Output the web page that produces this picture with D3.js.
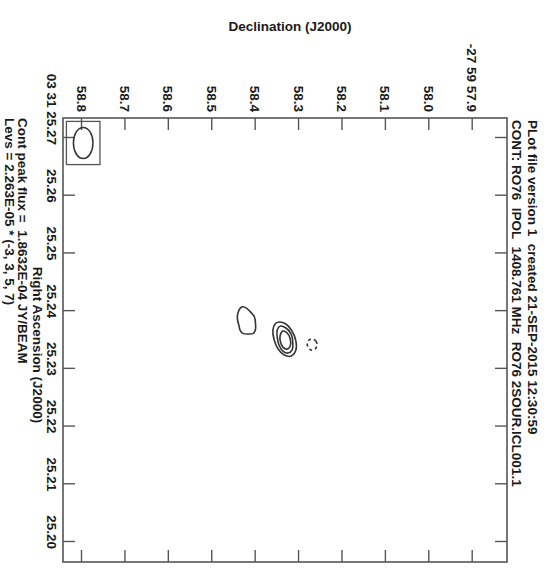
<!DOCTYPE html>
<html>
<head>
<meta charset="utf-8">
<script src="https://cdn.jsdelivr.net/npm/d3@7"></script>
<style>
  body { margin: 0; background: #fff; }
  text { font-family: "Liberation Sans", Arial, Helvetica, sans-serif; fill: #1a1a1a; }
</style>
</head>
<body>
<svg id="chart" width="547" height="571"></svg>
<script>
// ---- Axis ticks: Declination seconds of -27 59 xx, RA seconds of 03 31 xx ----
const decTicks = [58.8, 58.7, 58.6, 58.5, 58.4, 58.3, 58.2, 58.1, 58.0, 57.9];
const decTickLabels = ["58.8", "58.7", "58.6", "58.5", "58.4", "58.3", "58.2", "58.1", "58.0", "-27 59 57.9"];
const raTicks = [25.27, 25.26, 25.25, 25.24, 25.23, 25.22, 25.21, 25.20];
const raTickLabels = ["03 31 25.27", "25.26", "25.25", "25.24", "25.23", "25.22", "25.21", "25.20"];

// Plotted window (declination runs left -> right, RA runs top -> bottom)
const decDomain = [58.8415, 57.8187];
const raDomain = [25.27329, 25.19636];

// Contour levels in units of the base level
const baseLevel = 2.263e-5;
const peakFlux = 1.8632e-4;
const levels = [-3, 3, 5, 7];

// Contour paths, [dec sec, RA sec]
const westBlobLev3 = [
  [58.4274, 25.24059], [58.4182, 25.24031], [58.4067, 25.23945], [58.4007, 25.23886],
  [58.3984, 25.23799], [58.3984, 25.23655], [58.4030, 25.23598], [58.4145, 25.23586],
  [58.4274, 25.23598], [58.4336, 25.23655], [58.4359, 25.23724], [58.4399, 25.23858],
  [58.4376, 25.23972], [58.4320, 25.24042]
];
const coreLev3 = [
  [58.344, 25.23794], [58.328, 25.23759], [58.314, 25.23638], [58.305, 25.23464],
  [58.305, 25.23308], [58.316, 25.23204], [58.332, 25.23222], [58.346, 25.23326],
  [58.355, 25.23482], [58.358, 25.23655], [58.353, 25.23759]
];
const coreLev5 = [
  [58.341, 25.23724], [58.328, 25.23690], [58.316, 25.23586], [58.312, 25.23430],
  [58.314, 25.23308], [58.323, 25.23256], [58.335, 25.23291], [58.344, 25.23395],
  [58.348, 25.23534], [58.348, 25.23655]
];
const coreLev7 = [
  [58.335, 25.23638], [58.325, 25.23603], [58.318, 25.23499], [58.318, 25.23378],
  [58.325, 25.23326], [58.335, 25.23360], [58.341, 25.23464], [58.341, 25.23568]
];
const eastNegLev3 = [
  [58.268, 25.23499], [58.259, 25.23464], [58.256, 25.23395], [58.261, 25.23326],
  [58.270, 25.23308], [58.277, 25.23360], [58.279, 25.23430], [58.275, 25.23482]
];

// Restoring beam: centre and full widths along each axis
const beamCentre = [58.795, 25.26896];
const beamWidthDec = 0.045;   // arcsec
const beamWidthRA = 0.0054;   // seconds of time

const titleLines = [
  "PLot file version 1  created 21-SEP-2015 12:30:59",
  "CONT: RO76  IPOL  1408.761 MHz  RO76 2SOUR.ICL001.1"
];
const footLines = [
  "Cont peak flux =  1.8632E-04 JY/BEAM",
  "Levs = 2.263E-05 * (" + levels.join(", ") + ")"
];

// ---------------------------------------------------------------
const svg = d3.select("#chart");
const frame = { left: 63, right: 507, top: 118, bottom: 562 };
const x = d3.scaleLinear().domain(decDomain).range([frame.left, frame.right]);
const y = d3.scaleLinear().domain(raDomain).range([frame.top, frame.bottom]);

const ink = "#555";
const tickLen = 12;
const fs = 13.5;

// Inward ticks on all four sides
function styleAxis(g) {
  g.select(".domain").remove();
  g.selectAll(".tick line").attr("stroke", ink).attr("stroke-width", 1.4);
  g.selectAll(".tick text").remove();
}
svg.append("g").attr("transform", `translate(0,${frame.top})`)
  .call(d3.axisTop(x).tickValues(decTicks).tickSize(-tickLen)).call(styleAxis);
svg.append("g").attr("transform", `translate(0,${frame.bottom})`)
  .call(d3.axisBottom(x).tickValues(decTicks).tickSize(-tickLen)).call(styleAxis);
svg.append("g").attr("transform", `translate(${frame.left},0)`)
  .call(d3.axisLeft(y).tickValues(raTicks).tickSize(-tickLen)).call(styleAxis);
svg.append("g").attr("transform", `translate(${frame.right},0)`)
  .call(d3.axisRight(y).tickValues(raTicks).tickSize(-tickLen)).call(styleAxis);

svg.append("rect")
  .attr("x", frame.left).attr("y", frame.top)
  .attr("width", frame.right - frame.left).attr("height", frame.bottom - frame.top)
  .attr("fill", "none").attr("stroke", ink).attr("stroke-width", 1.6);

// Declination tick labels (rotated, reading downward, ending above the frame)
svg.append("g").selectAll("text").data(decTicks).join("text")
  .attr("transform", d => `translate(${x(d)},${frame.top - 6}) rotate(90)`)
  .attr("text-anchor", "end").attr("dominant-baseline", "central")
  .attr("font-size", fs).attr("font-weight", "bold")
  .text((d, i) => decTickLabels[i]);

// RA tick labels (left of the frame)
svg.append("g").selectAll("text").data(raTicks).join("text")
  .attr("transform", d => `translate(51,${y(d) + 8}) rotate(90)`)
  .attr("text-anchor", "end").attr("dominant-baseline", "central")
  .attr("font-size", fs).attr("font-weight", "bold")
  .text((d, i) => raTickLabels[i]);

// Axis titles
svg.append("text")
  .attr("x", 290).attr("y", 26)
  .attr("text-anchor", "middle").attr("dominant-baseline", "central")
  .attr("font-size", fs).attr("font-weight", "bold")
  .text("Declination (J2000)");
svg.append("text")
  .attr("transform", `translate(37,${(frame.top + frame.bottom) / 2 + 5}) rotate(90)`)
  .attr("text-anchor", "middle").attr("dominant-baseline", "central")
  .attr("font-size", fs).attr("font-weight", "bold")
  .text("Right Ascension (J2000)");

// Header lines on the right, footer lines on the left
svg.append("g").selectAll("text").data(titleLines).join("text")
  .attr("transform", (d, i) => `translate(${532 - i * 16},${frame.top + 2}) rotate(90)`)
  .attr("dominant-baseline", "central")
  .attr("font-size", fs).attr("font-weight", "bold")
  .style("white-space", "pre")
  .text(d => d);
svg.append("g").selectAll("text").data(footLines).join("text")
  .attr("transform", (d, i) => `translate(${22 - i * 13},${frame.top}) rotate(90)`)
  .attr("dominant-baseline", "central")
  .attr("font-size", fs).attr("font-weight", "bold")
  .style("white-space", "pre")
  .text(d => d);

// Contours
const line = d3.line().x(d => x(d[0])).y(d => y(d[1])).curve(d3.curveCatmullRomClosed.alpha(0.5));
const contours = [
  { pts: westBlobLev3, level: 3 },
  { pts: coreLev3, level: 3 },
  { pts: coreLev5, level: 5 },
  { pts: coreLev7, level: 7 },
  { pts: eastNegLev3, level: -3 }
];
svg.append("g").selectAll("path").data(contours).join("path")
  .attr("d", d => line(d.pts))
  .attr("fill", "none").attr("stroke", "#333").attr("stroke-width", 1.6)
  .attr("stroke-dasharray", d => d.level < 0 ? "3,3" : null);

// Beam ellipse and its box
const bx = x(beamCentre[0]), by = y(beamCentre[1]);
const brx = Math.abs(x(beamCentre[0] + beamWidthDec / 2) - bx);
const bry = Math.abs(y(beamCentre[1] - beamWidthRA / 2) - by);
svg.append("rect")
  .attr("x", bx - brx - 7).attr("y", by - bry - 6)
  .attr("width", 2 * (brx + 7)).attr("height", 2 * (bry + 6))
  .attr("fill", "none").attr("stroke", ink).attr("stroke-width", 1.3);
svg.append("ellipse")
  .attr("cx", bx).attr("cy", by).attr("rx", brx).attr("ry", bry)
  .attr("fill", "none").attr("stroke", "#333").attr("stroke-width", 1.5);
</script>
</body>
</html>
